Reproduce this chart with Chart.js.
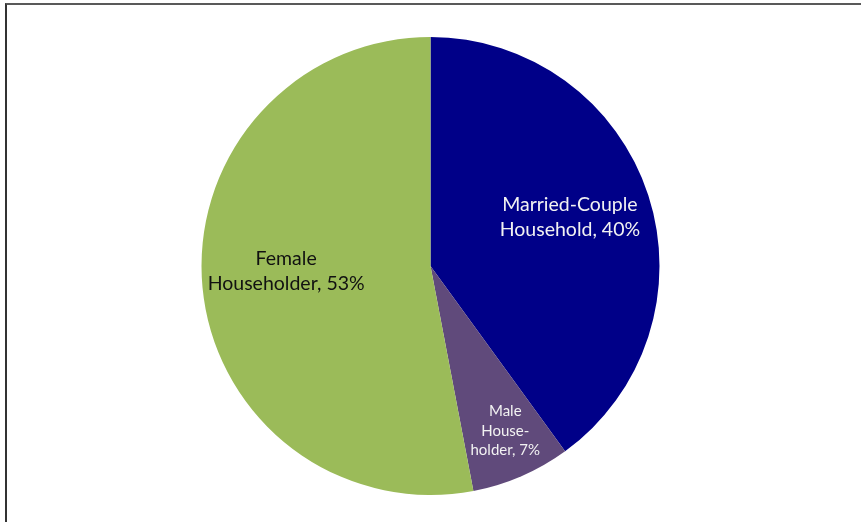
<!DOCTYPE html>
<html>
<head>
<meta charset="utf-8">
<script src="https://cdn.jsdelivr.net/npm/chart.js@4.4.1/dist/chart.umd.min.js"></script>
<style>
  html, body { margin: 0; padding: 0; background: #fff; }
  #wrap { position: relative; width: 861px; height: 522px; }
  #frame { position: absolute; left: 5px; top: 3px; right: 0; bottom: 0;
           border-top: 2px solid #595959; border-left: 2px solid #333; pointer-events: none; }
</style>
</head>
<body>
<div id="wrap">
  <canvas id="mygraph" width="861" height="522"></canvas>
  <div id="frame"></div>
</div>
<script>
const categories = ['Married-Couple Household', 'Male Householder', 'Female Householder']
const shares = [40, 7, 53]
const labelLines = [
  ['Married-Couple', 'Household, 40%'],
  ['Male', 'House-', 'holder, 7%'],
  ['Female', 'Householder, 53%']
]
const colors = ['#000088', '#604a7b', '#9bbb59']

// draws the text inside each slice, like the data labels of the original
const sliceLabels = {
  id: 'sliceLabels',
  afterDatasetsDraw(chart, args, opts) {
    const ctx = chart.ctx
    const meta = chart.getDatasetMeta(0)
    meta.data.forEach((arc, i) => {
      const mid = (arc.startAngle + arc.endAngle) / 2
      const r = arc.outerRadius * opts.radius[i]
      const cx = arc.x + Math.cos(mid) * r + opts.dx[i]
      const cy = arc.y + Math.sin(mid) * r + opts.dy[i]
      const lines = labelLines[i]
      const size = opts.size[i]
      const lh = opts.lineHeight[i]
      ctx.save()
      ctx.font = size + 'px ' + opts.family
      ctx.fillStyle = opts.color[i]
      ctx.textAlign = 'center'
      ctx.textBaseline = 'middle'
      lines.forEach((t, k) => {
        ctx.fillText(t, cx, cy + (k - (lines.length - 1) / 2) * lh)
      })
      ctx.restore()
    })
  }
}

const ctx = document.getElementById('mygraph').getContext('2d')
new Chart(ctx, {
  type: 'pie',
  data: {
    labels: categories,
    datasets: [{
      data: shares,
      backgroundColor: colors,
      borderWidth: 0
    }]
  },
  options: {
    responsive: false,
    animation: false,
    layout: { padding: { top: 37, bottom: 27, left: 0, right: 0 } },
    plugins: {
      legend: { display: false },
      tooltip: { enabled: false },
      sliceLabels: {
        radius: [0.64, 0.8, 0.62],
        dx: [0, 2, -3],
        dy: [-3, -3, -8],
        size: [19.5, 15, 19.5],
        lineHeight: [25, 19.5, 25],
        color: ['#f2f2f2', '#f2f2f2', '#111'],
        family: 'Lato, "Open Sans", sans-serif'
      }
    }
  },
  plugins: [sliceLabels]
})
</script>
</body>
</html>
